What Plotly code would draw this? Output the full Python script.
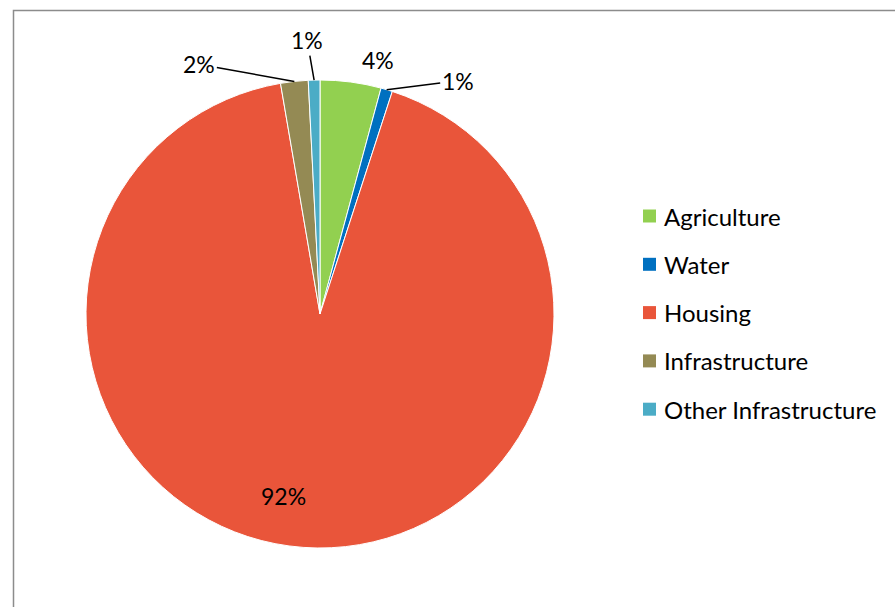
import math
import plotly.graph_objects as go

# Share of total by sector (percent)
categories = ["Agriculture", "Water", "Housing", "Infrastructure", "Other Infrastructure"]
shares = [4.2, 0.8, 92.3, 1.9, 0.8]
colors = ["#92D050", "#0070C0", "#E9553A", "#948A54", "#4BACC6"]

W, H = 895, 607
FONT = "Lato"

# pie placement in pixels
cx, cy, R = 320, 314, 234
dom_x = [(cx - R) / W, (cx + R) / W]
dom_y = [1 - (cy + R) / H, 1 - (cy - R) / H]

fig = go.Figure(
    go.Pie(
        labels=categories,
        values=shares,
        sort=False,
        direction="clockwise",
        rotation=0,
        marker=dict(colors=colors, line=dict(color="white", width=1)),
        textinfo="none",
        hoverinfo="label+percent",
        showlegend=False,
        domain=dict(x=dom_x, y=dom_y),
    )
)

total = sum(shares)
mid_angles = []
acc = 0.0
for v in shares:
    mid_angles.append((acc + v / 2) / total * 360.0)
    acc += v


def slice_point(angle_deg, r):
    a = math.radians(angle_deg)
    px = cx + r * math.sin(a)
    py = cy - r * math.cos(a)
    return px / W, 1 - py / H


# label style per slice: (radius factor, leader line?, offset x, offset y)
label_style = [
    (1.0, False, 27, -22),
    (1.0, True, 71, -9),
    (0.78, False, -23, 0),
    (1.0, True, -95, -17),
    (1.0, True, -7, -40),
]

for v, ang, (rf, lead, ox, oy) in zip(shares, mid_angles, label_style):
    x, y = slice_point(ang, R * rf)
    text = f"{round(v / total * 100)}%"
    if lead:
        fig.add_annotation(
            x=x, y=y, xref="paper", yref="paper",
            text=text, showarrow=True, arrowhead=0, arrowwidth=1.5,
            arrowcolor="black", ax=ox, ay=oy, standoff=0,
            xanchor="center", yanchor="middle",
            font=dict(family=FONT, size=23, color="black"),
        )
    else:
        fig.add_annotation(
            x=x, y=y, xref="paper", yref="paper",
            text=text, showarrow=False, xshift=ox, yshift=-oy,
            xanchor="center", yanchor="middle",
            font=dict(family=FONT, size=23, color="black"),
        )

# legend drawn as swatches with labels
leg_x, leg_y0, leg_dy, sw = 643, 216, 48.3, 13
for i, (name, col) in enumerate(zip(categories, colors)):
    yc = leg_y0 + i * leg_dy
    fig.add_shape(
        type="rect", xref="paper", yref="paper",
        x0=leg_x / W, x1=(leg_x + sw) / W,
        y0=1 - (yc + sw / 2) / H, y1=1 - (yc - sw / 2) / H,
        fillcolor=col, line=dict(width=0),
    )
    fig.add_annotation(
        x=(leg_x + sw + 6) / W, y=1 - yc / H, xref="paper", yref="paper",
        text=name, showarrow=False, xanchor="left", yanchor="middle",
        font=dict(family=FONT, size=24, color="black"),
    )

# chart area frame
fig.add_shape(
    type="rect", xref="paper", yref="paper",
    x0=13.5 / W, x1=1.02, y0=-0.02, y1=1 - 10.5 / H,
    line=dict(color="#8C8C8C", width=1.5), fillcolor="rgba(0,0,0,0)",
)

fig.update_layout(
    width=W, height=H,
    margin=dict(l=0, r=0, t=0, b=0),
    paper_bgcolor="white",
    plot_bgcolor="white",
    showlegend=False,
)

fig.write_html("out.html")
